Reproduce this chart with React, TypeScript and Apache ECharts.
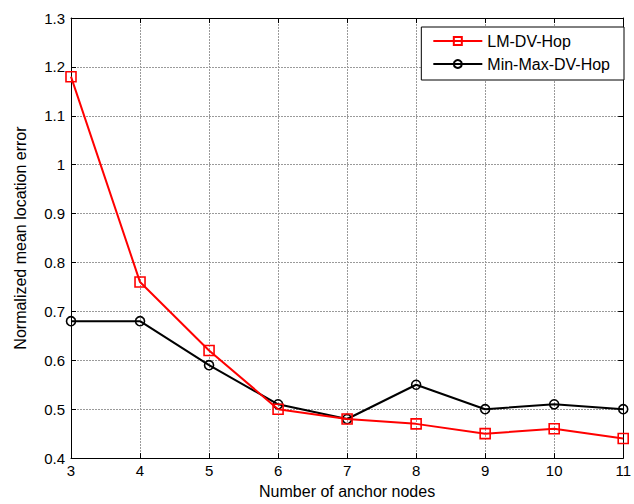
import React, { useEffect, useRef } from "react";
import * as echarts from "echarts";

const xValues = [3, 4, 5, 6, 7, 8, 9, 10, 11];
const lmDvHop = [1.18, 0.76, 0.62, 0.5, 0.48, 0.47, 0.45, 0.46, 0.44];
const minMaxDvHop = [0.68, 0.68, 0.59, 0.51, 0.48, 0.55, 0.5, 0.51, 0.5];
const seriesNames = ["LM-DV-Hop", "Min-Max-DV-Hop"];
const xTitle = "Number of anchor nodes";
const yTitle = "Normalized mean location error";

const FONT = "Liberation Sans, Arial, Helvetica, sans-serif";

export default function App() {
  const ref = useRef<HTMLDivElement>(null);
  useEffect(() => {
    if (!ref.current) return;
    const chart = echarts.init(ref.current, null, { renderer: "svg" });
    const gridLine = { show: true, lineStyle: { color: "#9a9a9a", width: 1, type: [2, 1] as any } };
    const frame = { show: true, lineStyle: { color: "#000", width: 1 } };
    const tick = { show: true, inside: true, length: 5, lineStyle: { color: "#000" } };
    chart.setOption({
      animation: false,
      backgroundColor: "#fff",
      textStyle: { fontFamily: FONT },
      grid: { left: 71, right: 4, top: 18, bottom: 45, containLabel: false },
      legend: {
        right: 10,
        top: 27,
        orient: "vertical",
        itemWidth: 49,
        itemHeight: 10,
        itemGap: 7,
        padding: [6, 14, 8, 11],
        backgroundColor: "#fff",
        borderColor: "#000",
        borderWidth: 1,
        borderRadius: 0,
        textStyle: { fontFamily: FONT, fontSize: 16, color: "#000", lineHeight: 16 },
        data: seriesNames,
      },
      xAxis: [
        {
          type: "value",
          min: 3,
          max: 11,
          interval: 1,
          name: xTitle,
          nameLocation: "middle",
          nameGap: 24,
          nameTextStyle: { fontFamily: FONT, fontSize: 16, color: "#000" },
          axisLine: frame,
          axisTick: tick,
          axisLabel: { fontFamily: FONT, fontSize: 15, color: "#000", margin: 5 },
          splitLine: gridLine,
        },
        {
          type: "value",
          position: "top",
          min: 3,
          max: 11,
          interval: 1,
          axisLine: frame,
          axisTick: tick,
          axisLabel: { show: false },
          splitLine: { show: false },
        },
      ],
      yAxis: [
        {
          type: "value",
          min: 0.4,
          max: 1.3,
          interval: 0.1,
          name: yTitle,
          nameLocation: "middle",
          nameGap: 43,
          nameTextStyle: { fontFamily: FONT, fontSize: 16, color: "#000" },
          axisLine: frame,
          axisTick: tick,
          axisLabel: {
            fontFamily: FONT,
            fontSize: 15,
            color: "#000",
            margin: 6,
            formatter: (v: number) => String(parseFloat(v.toFixed(1))),
          },
          splitLine: gridLine,
        },
        {
          type: "value",
          position: "right",
          min: 0.4,
          max: 1.3,
          interval: 0.1,
          axisLine: frame,
          axisTick: tick,
          axisLabel: { show: false },
          splitLine: { show: false },
        },
      ],
      series: [
        {
          name: seriesNames[0],
          type: "line",
          data: xValues.map((x, i) => [x, lmDvHop[i]]),
          symbol: "rect",
          symbolSize: 10,
          showAllSymbol: true,
          z: 3,
          lineStyle: { color: "#ff0000", width: 2 },
          itemStyle: { color: "rgba(255,255,255,0)", borderColor: "#ff0000", borderWidth: 1.6 },
        },
        {
          name: seriesNames[1],
          type: "line",
          data: xValues.map((x, i) => [x, minMaxDvHop[i]]),
          symbol: "circle",
          symbolSize: 9,
          showAllSymbol: true,
          z: 2,
          lineStyle: { color: "#000", width: 2 },
          itemStyle: { color: "rgba(255,255,255,0)", borderColor: "#000", borderWidth: 1.6 },
        },
      ],
    });
    return () => chart.dispose();
  }, []);
  return <div ref={ref} style={{ width: 634, height: 504, position: "absolute", left: 0, top: 0 }} />;
}
